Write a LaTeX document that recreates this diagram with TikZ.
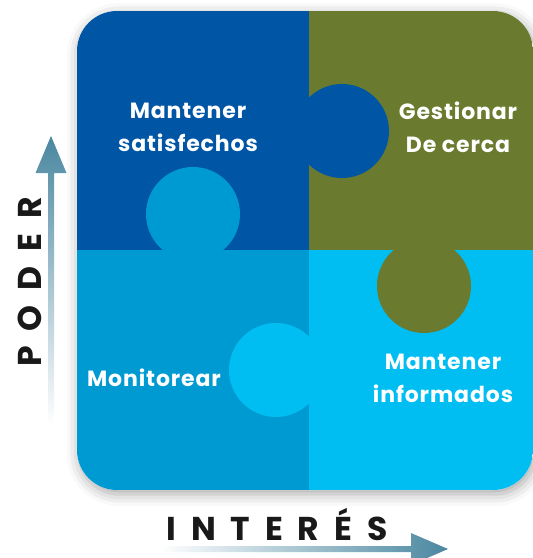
\documentclass[tikz,border=0pt]{standalone}
\usepackage{fontspec}
\setmainfont{Poppins}
\usetikzlibrary{shadows.blur,calc}
\definecolor{cTL}{RGB}{0,85,165}
\definecolor{cTR}{RGB}{106,123,47}
\definecolor{cBL}{RGB}{0,154,211}
\definecolor{cBR}{RGB}{0,189,242}
\definecolor{arr}{RGB}{74,135,160}
\tikzset{
  lbl/.style={text=white, align=center, font=\bfseries\addfontfeature{LetterSpace=4}\fontsize{22}{33}\selectfont, inner sep=0pt},
  axis/.style={text=black!90, font=\bfseries\addfontfeature{LetterSpace=45}\fontsize{33}{33}\selectfont, inner sep=0pt},
  vshade/.style={bottom color=white, middle color=arr!80, top color=arr},
  hshade/.style={left color=white, middle color=arr!80, right color=arr}
}
\begin{document}
\begin{tikzpicture}[x=1pt,y=-1pt]
\useasboundingbox (0,0) rectangle (533,558);
% frame with shadow
\path[fill=white, rounded corners=40pt, blur shadow={shadow xshift=2pt, shadow yshift=-4pt, shadow blur radius=12pt, shadow opacity=35}] (77,11) rectangle (533,490);
\begin{scope}
\clip[rounded corners=40pt] (77,11) rectangle (533,490);
\fill[cTL] (77,11) rectangle (309,250);
\fill[cTR] (309,11) rectangle (533,250);
\fill[cBL] (77,250) rectangle (309,490);
\fill[cBR] (309,250) rectangle (533,490);
\fill[cTL] (342,131) circle (47);
\fill[cBL] (193,214) circle (47);
\fill[cTR] (424,286) circle (47);
\fill[cBR] (276,370) circle (47);
\end{scope}
% labels
\node[lbl] (ms) at (188,127) {Mantener\\satisfechos};
\node[lbl] (gc) at (458,127) {Gestionar\\De cerca};
\node[lbl] (mon) at (154,378) {Monitorear};
\node[lbl] (mi) at (443,378) {Mantener\\informados};
% axes
\node[axis, rotate=90] (poder) at (30,282) {PODER};
\node[axis] (interes) at (277,525) {INTERÉS};
\coordinate (vtail) at (51,425);
\coordinate (vtip) at (51,136);
\coordinate (htail) at (160,549);
\coordinate (htip) at (448,549);
\shade[vshade] ($(vtail)+(-3,0)$) -- ($(vtip)+(-3,37)$) -- ($(vtip)+(-15.5,37)$) -- (vtip)
  -- ($(vtip)+(15.5,37)$) -- ($(vtip)+(3,37)$) -- ($(vtail)+(3,0)$) -- cycle;
\shade[hshade] ($(htail)+(0,-3)$) -- ($(htip)+(-37,-3)$) -- ($(htip)+(-37,-16)$) -- (htip)
  -- ($(htip)+(-37,16)$) -- ($(htip)+(-37,3)$) -- ($(htail)+(0,3)$) -- cycle;
\end{tikzpicture}
\end{document}
